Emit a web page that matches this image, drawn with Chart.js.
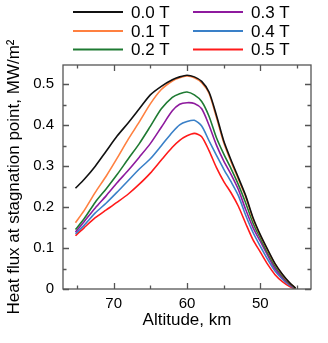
<!DOCTYPE html>
<html>
<head>
<meta charset="utf-8">
<script src="https://cdn.jsdelivr.net/npm/chart.js@4.4.1/dist/chart.umd.min.js"></script>
<style>
  html, body { margin: 0; padding: 0; background: #fff; }
  #wrap { width: 328px; height: 343px; position: relative; }
</style>
</head>
<body>
<div id="wrap"><canvas id="canvas" width="328" height="343"></canvas></div>
<script>
// altitude, km (x axis, reversed)
const altitudes = [75.2, 74, 72.5, 71, 69.5, 68, 66.5, 65, 63.5, 62, 61, 60, 59, 58, 57, 56, 55, 54, 53, 52, 51, 50, 49, 48, 47, 46, 45.2]

// heat flux, MW/m2, one list per magnetic field
const flux00 = [0.246, 0.268, 0.300, 0.337, 0.374, 0.406, 0.440, 0.474, 0.495, 0.511, 0.518, 0.522, 0.518, 0.507, 0.481, 0.425, 0.362, 0.315, 0.272, 0.228, 0.174, 0.132, 0.096, 0.062, 0.036, 0.015, 0.002]
const flux01 = [0.162, 0.192, 0.236, 0.276, 0.320, 0.366, 0.408, 0.452, 0.487, 0.508, 0.516, 0.520, 0.516, 0.504, 0.478, 0.420, 0.358, 0.311, 0.268, 0.225, 0.171, 0.130, 0.094, 0.061, 0.035, 0.014, 0.002]
const flux02 = [0.145, 0.172, 0.212, 0.245, 0.280, 0.318, 0.355, 0.397, 0.440, 0.468, 0.477, 0.481, 0.474, 0.458, 0.422, 0.370, 0.330, 0.294, 0.255, 0.210, 0.161, 0.124, 0.088, 0.056, 0.032, 0.013, 0.001]
const flux03 = [0.139, 0.165, 0.198, 0.228, 0.260, 0.290, 0.322, 0.355, 0.395, 0.435, 0.451, 0.455, 0.453, 0.440, 0.400, 0.352, 0.313, 0.280, 0.243, 0.194, 0.150, 0.116, 0.082, 0.050, 0.028, 0.011, 0.001]
const flux04 = [0.135, 0.156, 0.186, 0.210, 0.237, 0.265, 0.293, 0.318, 0.350, 0.383, 0.401, 0.409, 0.412, 0.398, 0.362, 0.327, 0.293, 0.262, 0.228, 0.180, 0.138, 0.104, 0.072, 0.044, 0.024, 0.009, 0.001]
const flux05 = [0.130, 0.150, 0.174, 0.193, 0.212, 0.232, 0.256, 0.283, 0.315, 0.346, 0.363, 0.374, 0.380, 0.372, 0.338, 0.297, 0.263, 0.235, 0.202, 0.160, 0.120, 0.090, 0.060, 0.035, 0.018, 0.006, 0.000]

const seriesLabels = ['0.0 T', '0.1 T', '0.2 T', '0.3 T', '0.4 T', '0.5 T']
const seriesColors = ['#111111', '#ff8040', '#1e7a32', '#8e1a9e', '#3a80c8', '#ff1a1a']

const xTickValues = [70, 60, 50]
const xMinorValues = [75, 65, 55, 45]
const yTickValues = [0, 0.1, 0.2, 0.3, 0.4, 0.5]
const yMinorValues = [0.05, 0.15, 0.25, 0.35, 0.45]

Chart.defaults.font.family = "'Liberation Sans', Arial, sans-serif"
Chart.defaults.color = '#000'

function toPoints(vals) {
  return vals.map((v, i) => ({ x: altitudes[i], y: v }))
}

const allFlux = [flux00, flux01, flux02, flux03, flux04, flux05]
const datasets = allFlux.map((vals, i) => ({
  label: seriesLabels[i],
  data: toPoints(vals),
  borderColor: seriesColors[i],
  backgroundColor: seriesColors[i],
  borderWidth: 1.6,
  pointRadius: 0,
  tension: 0.25,
  fill: false,
}))

// inner ticks on all four sides, plus frame
const frameTicks = {
  id: 'frameTicks',
  afterDraw(chart) {
    const ctx = chart.ctx
    const a = chart.chartArea
    const xs = chart.scales.x, ys = chart.scales.y
    ctx.save()
    ctx.strokeStyle = '#555'
    ctx.lineWidth = 1.3
    ctx.strokeRect(a.left, a.top, a.right - a.left, a.bottom - a.top)
    ctx.beginPath()
    function xt(v, len) {
      const px = Math.round(xs.getPixelForValue(v)) + 0.5
      ctx.moveTo(px, a.bottom); ctx.lineTo(px, a.bottom - len)
      ctx.moveTo(px, a.top); ctx.lineTo(px, a.top + len)
    }
    function yt(v, len) {
      const py = Math.round(ys.getPixelForValue(v)) + 0.5
      ctx.moveTo(a.left, py); ctx.lineTo(a.left + len, py)
      ctx.moveTo(a.right, py); ctx.lineTo(a.right - len, py)
    }
    xTickValues.forEach(v => xt(v, 6))
    xMinorValues.forEach(v => xt(v, 3.5))
    yTickValues.forEach(v => yt(v, 6))
    yMinorValues.forEach(v => yt(v, 3.5))
    ctx.stroke()
    ctx.restore()
  }
}

// two-column legend above the plot
const twoColLegend = {
  id: 'twoColLegend',
  afterDraw(chart) {
    const ctx = chart.ctx
    const rows = [12, 31, 49.5]
    const cols = [{ l1: 73, l2: 123, tx: 131 }, { l1: 193, l2: 243, tx: 251 }]
    ctx.save()
    ctx.font = "17px 'Liberation Sans', Arial, sans-serif"
    ctx.textBaseline = 'middle'
    chart.data.datasets.forEach((ds, i) => {
      const c = cols[Math.floor(i / 3)]
      const y = rows[i % 3]
      ctx.strokeStyle = ds.borderColor
      ctx.lineWidth = 2
      ctx.beginPath()
      ctx.moveTo(c.l1, y); ctx.lineTo(c.l2, y)
      ctx.stroke()
      ctx.fillStyle = '#000'
      ctx.fillText(ds.label, c.tx, y + 1)
    })
    ctx.restore()
  }
}

const config = {
  type: 'line',
  data: { datasets: datasets },
  options: {
    responsive: false,
    animation: false,
    layout: { padding: { top: 65, right: 17, left: 0, bottom: 0 } },
    plugins: {
      legend: { display: false },
      tooltip: { enabled: false },
    },
    scales: {
      x: {
        type: 'linear',
        reverse: true,
        min: 43.1,
        max: 76.9,
        afterBuildTicks: s => { s.ticks = xTickValues.map(v => ({ value: v })) },
        afterFit: s => { s.height = 54 },
        grid: { display: false, drawTicks: false },
        border: { display: false },
        ticks: { font: { size: 15 }, padding: 6, maxRotation: 0, color: '#000' },
        title: { display: true, text: 'Altitude, km', font: { size: 17 }, padding: { top: 0, bottom: 12 }, color: '#000' },
      },
      y: {
        type: 'linear',
        min: 0,
        max: 0.547,
        afterBuildTicks: s => { s.ticks = yTickValues.map(v => ({ value: v })) },
        afterFit: s => { s.width = 63 },
        grid: { display: false, drawTicks: false },
        border: { display: false },
        ticks: {
          font: { size: 15 }, padding: 9, color: '#000',
          callback: v => (v === 0 ? '0' : v.toFixed(1)),
        },
        title: { display: true, text: 'Heat flux at stagnation point, MW/m²', font: { size: 17 }, padding: { top: 4, bottom: 4 }, color: '#000' },
      },
    },
  },
  plugins: [frameTicks, twoColLegend],
}

const canvas = document.getElementById('canvas')
const chart = new Chart(canvas, config)
</script>
</body>
</html>
